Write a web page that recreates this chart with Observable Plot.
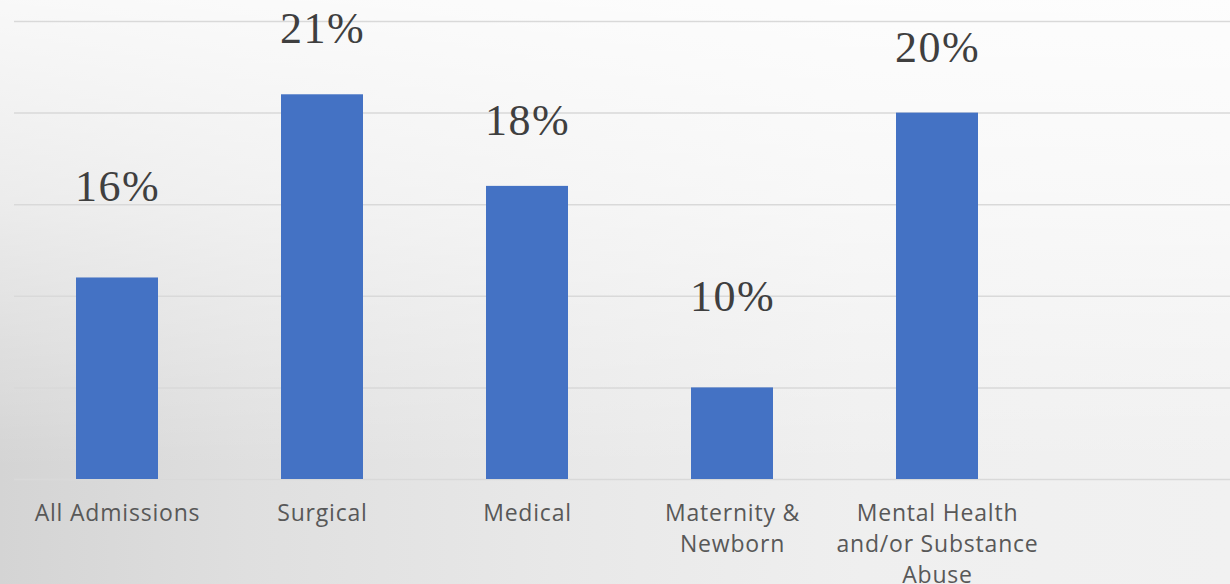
<!DOCTYPE html>
<html>
<head>
<meta charset="utf-8">
<script src="https://cdn.jsdelivr.net/npm/d3@7"></script>
<script src="https://cdn.jsdelivr.net/npm/@observablehq/plot@0.6"></script>
<style>
  html, body { margin: 0; padding: 0; }
  #chart {
    width: 1230px; height: 584px; overflow: hidden;
    background:
      linear-gradient(to bottom, rgba(255,255,255,0.85) 0%, rgba(255,255,255,0.55) 35%, rgba(255,255,255,0) 80%),
      linear-gradient(to right, #d4d4d4 0%, #dfdfdf 20%, #e8e8e8 45%, #efefef 70%, #f1f1f1 100%);
  }
  #chart svg { display: block; background: transparent; }
  [aria-label="x-axis tick label"] text { letter-spacing: 0.8px; }
  .pct text { letter-spacing: 1.5px; }
</style>
</head>
<body>
<div id="chart"></div>
<script>
// Categories (x axis)
const categories = ["All Admissions", "Surgical", "Medical", "Maternity & Newborn", "Mental Health and/or Substance Abuse"];
// Tick labels as displayed (wrapped)
const tickLabels = ["All Admissions", "Surgical", "Medical", "Maternity &\nNewborn", "Mental Health\nand/or Substance\nAbuse"];
// Bar heights as drawn
const barValues = [0.11, 0.21, 0.16, 0.05, 0.20];
// Data labels as written above the bars
const labelValues = [0.16, 0.21, 0.18, 0.10, 0.20];
// Gridline values
const gridTicks = [0, 0.05, 0.10, 0.15, 0.20, 0.25];

const data = categories.map((c, i) => ({category: c, bar: barValues[i], label: labelValues[i]}));

const W = 1230, H = 584, mL = 14, step = 205;

const plot = Plot.plot({
  width: W,
  height: H,
  marginLeft: mL,
  marginRight: 0,
  marginTop: 21,
  marginBottom: 105,
  style: {background: "transparent", overflow: "visible"},
  x: {domain: categories, range: [mL + 0.5, mL + 0.5 + step * categories.length], paddingInner: 0.6, paddingOuter: 0.3},
  y: {domain: [0, 0.25]},
  marks: [
    Plot.ruleY(gridTicks, {stroke: "#d9d9d9", strokeWidth: 1.5}),
    Plot.barY(data, {x: "category", y: "bar", fill: "#4472C4"}),
    Plot.text(data, {
      x: "category",
      y: d => Math.max(d.label - 0.008, d.bar + 0.028),
      text: d => `${Math.round(d.label * 100)}%`,
      lineAnchor: "bottom",
      fontSize: 44,
      fontFamily: "Liberation Serif, Times New Roman, serif",
      fill: "#3f3f3f",
      className: "pct"
    }),
    Plot.axisX({
      tickSize: 0,
      tickPadding: 19,
      fontSize: 23,
      lineHeight: 1.35,
      fontFamily: "Open Sans, sans-serif",
      fill: "#585858",
      tickFormat: d => tickLabels[categories.indexOf(d)],
      label: null
    }),
    Plot.axisY({ticks: [], label: null})
  ]
});
document.getElementById("chart").appendChild(plot);
</script>
</body>
</html>
